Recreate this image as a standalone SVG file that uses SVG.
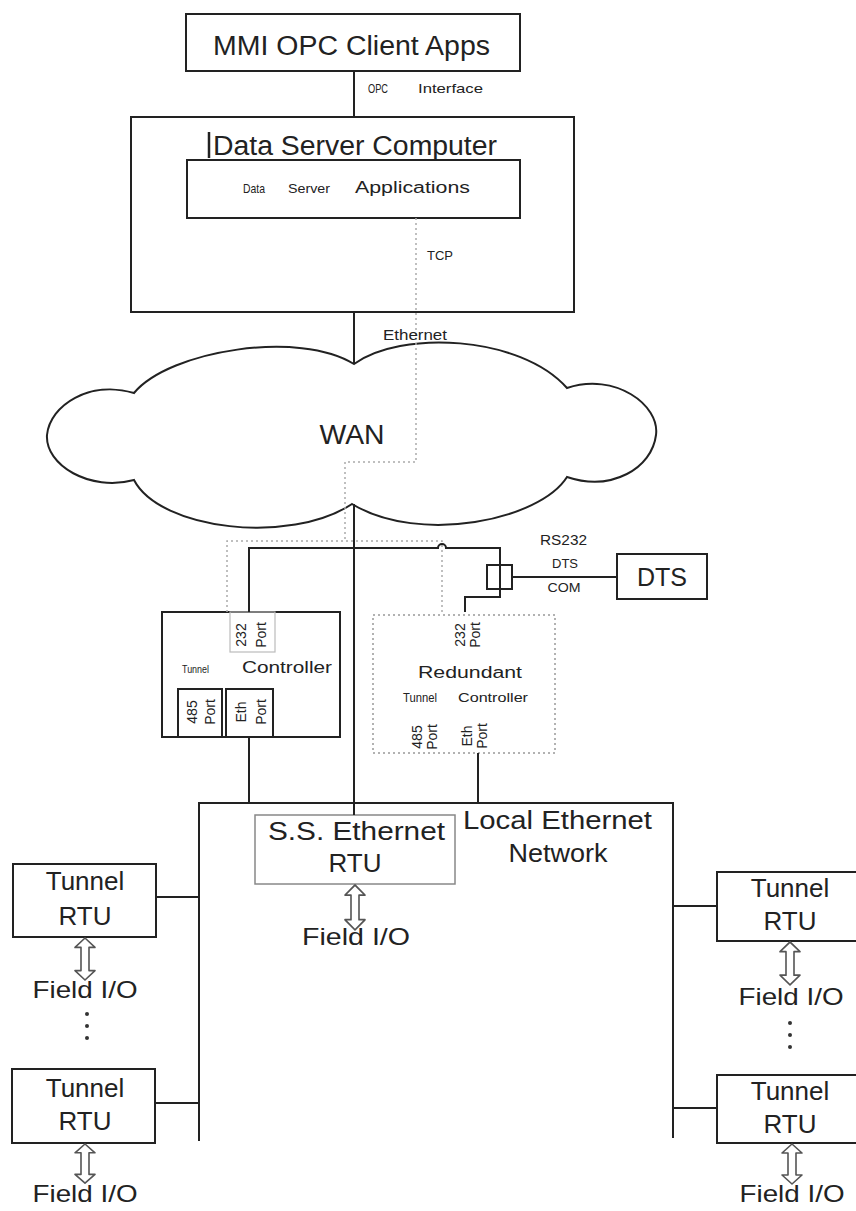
<svg xmlns="http://www.w3.org/2000/svg" width="856" height="1211" viewBox="0 0 856 1211">
<style>
text{font-family:"Liberation Sans",Arial,sans-serif;fill:#222}
.box{fill:#fff;stroke:#222;stroke-width:2}
.obox{fill:none;stroke:#222;stroke-width:2}
.gbox{fill:#fff;stroke:#888;stroke-width:1.5}
.dbox{fill:none;stroke:#999;stroke-width:1.5;stroke-dasharray:2 3}
.ln{fill:none;stroke:#222;stroke-width:2}
.dot{fill:none;stroke:#aaa;stroke-width:1.5;stroke-dasharray:2 3}
.arr{fill:#fff;stroke:#555;stroke-width:1.6;stroke-linejoin:round}
.big{font-size:27px}
.mid{font-size:26px}
.fio{font-size:24px}
.sm{font-size:13px}
.port{font-size:14px}
</style>
<defs>
<path id="dbl" d="M0,0 L10,9 L4,9 L4,31 L10,31 L0,40 L-10,31 L-4,31 L-4,9 L-10,9 Z"/>
</defs>

<g id="mmi">
<rect class="box" x="186" y="14" width="334" height="57"/>
<text class="big" x="213" y="55" textLength="277" lengthAdjust="spacingAndGlyphs">MMI OPC Client Apps</text>
</g>

<g id="data-server">
<rect class="obox" x="131" y="117" width="443" height="195"/>
<line x1="209" y1="132" x2="209" y2="158" stroke="#222" stroke-width="2.5"/>
<text class="big" x="213" y="155" textLength="284" lengthAdjust="spacingAndGlyphs">Data Server Computer</text>
<g id="data-server-apps">
<rect class="box" x="187" y="160" width="333" height="58"/>
<text font-size="13" x="243" y="193" textLength="22" lengthAdjust="spacingAndGlyphs">Data</text>
<text font-size="13" x="288" y="193" textLength="42" lengthAdjust="spacingAndGlyphs">Server</text>
<text font-size="16" x="355" y="193" textLength="115" lengthAdjust="spacingAndGlyphs">Applications</text>
</g>
</g>

<g id="wan">
<path class="ln" fill="#fff" d="M134,393 C170,350 300,330 354,364 C400,330 520,335 567,388 C615,372 660,405 656,435 C652,468 612,492 567,477 C540,520 420,545 352,504 C290,545 160,530 134,480 C90,492 45,465 47,435 C50,405 90,380 134,393 Z"/>
<text class="big" x="352" y="444" text-anchor="middle" textLength="65" lengthAdjust="spacingAndGlyphs">WAN</text>
</g>

<g id="dts">
<rect class="box" x="617" y="554" width="90" height="45"/>
<text font-size="25" x="662" y="586" text-anchor="middle">DTS</text>
</g>

<g id="tunnel-controller">
<rect class="box" x="162" y="612" width="178" height="125"/>
<rect x="230" y="612" width="45" height="40" fill="none" stroke="#bbb" stroke-width="1.2"/>
<text class="port" transform="translate(246,635) rotate(-90)" text-anchor="middle">232</text>
<text class="port" transform="translate(266,635) rotate(-90)" text-anchor="middle">Port</text>
<text font-size="11" x="182" y="673" textLength="27" lengthAdjust="spacingAndGlyphs">Tunnel</text>
<text font-size="16" x="242" y="673" textLength="90" lengthAdjust="spacingAndGlyphs">Controller</text>
<rect class="box" x="178" y="689" width="44" height="48"/>
<text class="port" transform="translate(197,712) rotate(-90)" text-anchor="middle">485</text>
<text class="port" transform="translate(215,712) rotate(-90)" text-anchor="middle">Port</text>
<rect class="box" x="226" y="689" width="47" height="48"/>
<text class="port" transform="translate(246,712) rotate(-90)" text-anchor="middle">Eth</text>
<text class="port" transform="translate(266,712) rotate(-90)" text-anchor="middle">Port</text>
</g>

<g id="redundant-tunnel-controller">
<rect class="dbox" x="373" y="615" width="182" height="138"/>
<text class="port" transform="translate(465,635) rotate(-90)" text-anchor="middle">232</text>
<text class="port" transform="translate(480,635) rotate(-90)" text-anchor="middle">Port</text>
<text font-size="16" x="418" y="678" textLength="104" lengthAdjust="spacingAndGlyphs">Redundant</text>
<text font-size="12" x="403" y="702" textLength="34" lengthAdjust="spacingAndGlyphs">Tunnel</text>
<text font-size="13" x="458" y="702" textLength="70" lengthAdjust="spacingAndGlyphs">Controller</text>
<text class="port" transform="translate(422,737) rotate(-90)" text-anchor="middle">485</text>
<text class="port" transform="translate(437,737) rotate(-90)" text-anchor="middle">Port</text>
<text class="port" transform="translate(472,736) rotate(-90)" text-anchor="middle">Eth</text>
<text class="port" transform="translate(487,736) rotate(-90)" text-anchor="middle">Port</text>
</g>

<g id="local-ethernet-network">
<text class="mid" x="463" y="829" textLength="189" lengthAdjust="spacingAndGlyphs">Local Ethernet</text>
<text class="mid" x="558" y="862" text-anchor="middle" textLength="99" lengthAdjust="spacingAndGlyphs">Network</text>
</g>

<g id="ss-ethernet-rtu">
<rect class="gbox" x="255" y="815" width="200" height="69"/>
<text class="mid" x="268" y="840" textLength="177" lengthAdjust="spacingAndGlyphs">S.S. Ethernet</text>
<text class="mid" x="355" y="872" text-anchor="middle">RTU</text>
<text class="fio" x="302" y="945" textLength="108" lengthAdjust="spacingAndGlyphs">Field I/O</text>
</g>

<g id="tunnel-rtu-left-1">
<rect class="box" x="13" y="864" width="143" height="73"/>
<text class="mid" x="85" y="890" text-anchor="middle">Tunnel</text>
<text class="mid" x="85" y="925" text-anchor="middle">RTU</text>
<text class="fio" x="85" y="998" text-anchor="middle" textLength="105" lengthAdjust="spacingAndGlyphs">Field I/O</text>
<circle cx="87" cy="1014" r="2" fill="#333"/>
<circle cx="87" cy="1026" r="2" fill="#333"/>
<circle cx="87" cy="1038" r="2" fill="#333"/>
</g>

<g id="tunnel-rtu-left-2">
<rect class="box" x="12" y="1069" width="143" height="74"/>
<text class="mid" x="85" y="1097" text-anchor="middle">Tunnel</text>
<text class="mid" x="85" y="1130" text-anchor="middle">RTU</text>
<text class="fio" x="85" y="1202" text-anchor="middle" textLength="105" lengthAdjust="spacingAndGlyphs">Field I/O</text>
</g>

<g id="tunnel-rtu-right-1">
<rect class="box" x="717" y="872" width="140" height="69"/>
<text class="mid" x="790" y="897" text-anchor="middle">Tunnel</text>
<text class="mid" x="790" y="930" text-anchor="middle">RTU</text>
<text class="fio" x="791" y="1005" text-anchor="middle" textLength="105" lengthAdjust="spacingAndGlyphs">Field I/O</text>
<circle cx="790" cy="1023" r="2" fill="#333"/>
<circle cx="790" cy="1035" r="2" fill="#333"/>
<circle cx="790" cy="1047" r="2" fill="#333"/>
</g>

<g id="tunnel-rtu-right-2">
<rect class="box" x="717" y="1075" width="140" height="68"/>
<text class="mid" x="790" y="1100" text-anchor="middle">Tunnel</text>
<text class="mid" x="790" y="1133" text-anchor="middle">RTU</text>
<text class="fio" x="792" y="1202" text-anchor="middle" textLength="105" lengthAdjust="spacingAndGlyphs">Field I/O</text>
</g>

<g id="connectors">
<line class="ln" x1="354" y1="71" x2="354" y2="117"/>
<line class="ln" x1="354" y1="312" x2="354" y2="364"/>
<line class="ln" x1="354" y1="504" x2="354" y2="815"/>
<polyline class="dot" points="416,218 416,462 345,462 345,541"/>
<polyline class="dot" points="227,612 227,541 442,541 442,615"/>
<path class="ln" d="M249,612 V548 H438 A4,4 0 0 1 446,548 H500 V597 H465 V612"/>
<line class="ln" x1="512" y1="577" x2="617" y2="577"/>
<rect class="ln" x="487" y="565" width="25" height="24"/>
<line class="ln" x1="249" y1="737" x2="249" y2="803"/>
<line class="ln" x1="478" y1="753" x2="478" y2="803"/>
<polyline class="ln" points="199,1141 199,803 673,803 673,1138"/>
<line class="ln" x1="156" y1="897" x2="199" y2="897"/>
<line class="ln" x1="155" y1="1103" x2="199" y2="1103"/>
<line class="ln" x1="673" y1="906" x2="717" y2="906"/>
<line class="ln" x1="673" y1="1108" x2="717" y2="1108"/>
<use href="#dbl" class="arr" transform="translate(355,885) scale(1,1.12)"/>
<use href="#dbl" class="arr" transform="translate(85,938) scale(1,1.05)"/>
<use href="#dbl" class="arr" transform="translate(85,1144) scale(1,0.98)"/>
<use href="#dbl" class="arr" transform="translate(790,942) scale(1,1.07)"/>
<use href="#dbl" class="arr" transform="translate(792,1144) scale(1,1)"/>
<text class="sm" x="368" y="93" textLength="20" lengthAdjust="spacingAndGlyphs">OPC</text>
<text class="sm" x="418" y="93" textLength="65" lengthAdjust="spacingAndGlyphs">Interface</text>
<text class="sm" x="427" y="260" textLength="26" lengthAdjust="spacingAndGlyphs">TCP</text>
<text font-size="14" x="383" y="340" textLength="64" lengthAdjust="spacingAndGlyphs">Ethernet</text>
<text font-size="14" x="540" y="545" textLength="47" lengthAdjust="spacingAndGlyphs">RS232</text>
<text class="sm" x="565" y="568" text-anchor="middle" textLength="26" lengthAdjust="spacingAndGlyphs">DTS</text>
<text class="sm" x="564" y="592" text-anchor="middle" textLength="33" lengthAdjust="spacingAndGlyphs">COM</text>
</g>
</svg>
